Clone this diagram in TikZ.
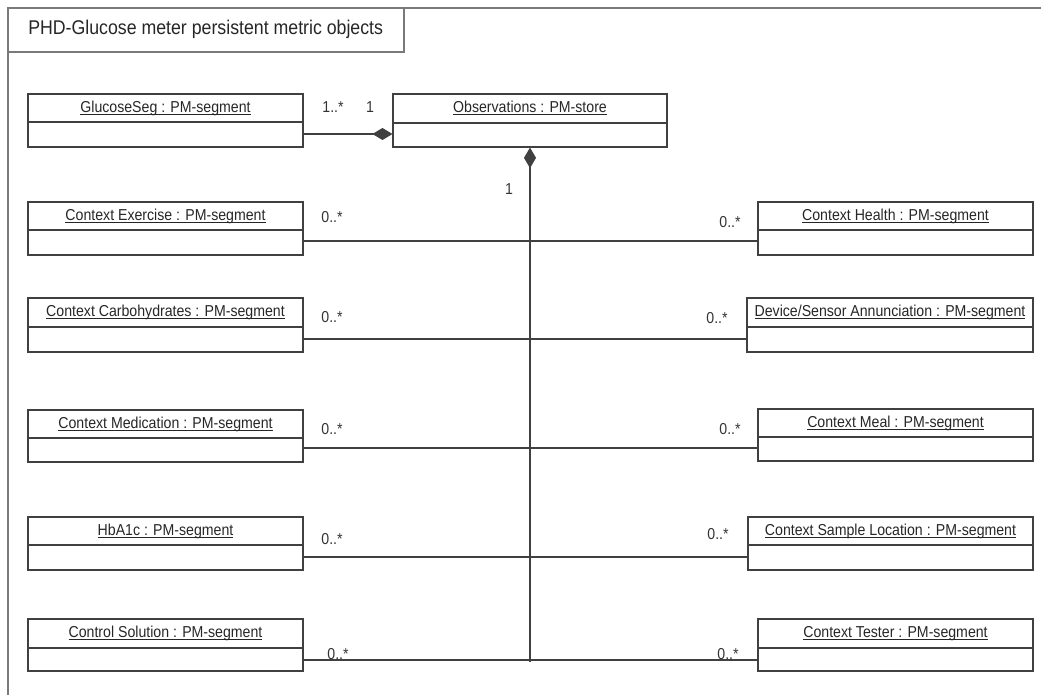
\documentclass[tikz,border=0pt]{standalone}
\usepackage{fontspec}
\setmainfont{Liberation Sans}
\usetikzlibrary{arrows.meta,fit,calc}
\definecolor{boxcol}{HTML}{404040}
\definecolor{framecol}{HTML}{7A7A7A}
\newcommand{\myul}[1]{\leavevmode\setbox0=\hbox{#1}\rlap{\copy0}\rule[-1.8pt]{\wd0}{0.5pt}}
\newcommand{\tall}[1]{\scalebox{1}[1.12]{#1}}
\newcommand{\umlobj}[7]{%
  \node[objbox, fit={(#2,#3) (#4,#5)}] (#1) {};
  \draw[divline] (#2,#6) -- (#4,#6);
  \node[objtitle, anchor=base] (#1-t) at ({(#2+#4)/2},{#3+18.5}) {\tall{\myul{#7}}};
}
\tikzset{
  objbox/.style={draw=boxcol, line width=0.8pt, inner sep=0pt, rectangle},
  divline/.style={draw=boxcol, line width=0.8pt},
  objtitle/.style={inner sep=0pt, font=\fontsize{10.6}{12}\selectfont, text=black!85},
  mult/.style={inner sep=0pt, font=\fontsize{10.6}{12}\selectfont, text=black!80},
  assoc/.style={draw=boxcol, line width=0.8pt},
  comp/.style={draw=boxcol, line width=0.8pt},
  frame/.style={draw=framecol, line width=0.9pt},
}
\begin{document}
\begin{tikzpicture}[x=0.75pt,y=-0.75pt]
\useasboundingbox (0,0) rectangle (1041,695);
% outer frame (open on right and bottom)
\coordinate (ftr) at (1041,8);
\coordinate (fbl) at (8,695);
\node[frame, fit={(8,8) (404,52)}, inner sep=0pt] (titlebox) {};
\draw[frame] (fbl) |- (ftr);
\node[anchor=base west, inner sep=0pt, font=\fontsize{13.3}{15}\selectfont, text=black!85] (title) at (28,35) {\tall{PHD-Glucose meter persistent metric objects}};
% objects
\umlobj{gs}{28}{94}{303}{147}{122}{GlucoseSeg : PM-segment}
\umlobj{obs}{393}{94}{667}{147}{123}{Observations : PM-store}
\umlobj{ex}{28}{202}{303}{255}{230}{Context Exercise : PM-segment}
\umlobj{carb}{28}{298}{303}{352}{327}{Context Carbohydrates : PM-segment}
\umlobj{med}{28}{410}{303}{462}{438}{Context Medication : PM-segment}
\umlobj{hba}{28}{517}{303}{570}{545}{HbA1c : PM-segment}
\umlobj{ctrl}{28}{619}{303}{671}{648}{Control Solution : PM-segment}
\umlobj{health}{758}{202}{1033}{255}{230}{Context Health : PM-segment}
\umlobj{dev}{747}{298}{1033}{352}{327}{Device/Sensor Annunciation : PM-segment}
\umlobj{meal}{758}{409}{1033}{461}{437}{Context Meal : PM-segment}
\umlobj{samp}{748}{517}{1033}{570}{545}{Context Sample Location : PM-segment}
\umlobj{tester}{758}{619}{1033}{671}{648}{Context Tester : PM-segment}
% composition GlucoseSeg -> Observations
\draw[comp, {Diamond[length=15pt,width=9pt,fill=boxcol]}-] (obs.west |- 0,134) -- (gs.east |- 0,134);
\node[mult] (m1) at (333,107) {\tall{1..*}};
\node[mult] (m2) at (370,107) {\tall{1}};
% vertical trunk
\coordinate (vend) at (530,662);
\draw[comp, {Diamond[length=15.5pt,width=9pt,fill=boxcol]}-] (obs.south) -- (vend);
\node[mult] (m3) at (509,189) {\tall{1}};
% junctions
\coordinate (j1) at (530,241);
\coordinate (j2) at (530,339);
\coordinate (j3) at (530,448);
\coordinate (j4) at (530,557);
\coordinate (j5) at (530,660);
\draw[assoc] (ex.east |- j1) -- (j1);
\draw[assoc] (j1) -- (health.west |- j1);
\draw[assoc] (carb.east |- j2) -- (j2);
\draw[assoc] (j2) -- (dev.west |- j2);
\draw[assoc] (med.east |- j3) -- (j3);
\draw[assoc] (j3) -- (meal.west |- j3);
\draw[assoc] (hba.east |- j4) -- (j4);
\draw[assoc] (j4) -- (samp.west |- j4);
\draw[assoc] (ctrl.east |- j5) -- (j5);
\draw[assoc] (j5) -- (tester.west |- j5);
% multiplicities
\node[mult] (l1) at (332,217) {\tall{0..*}};
\node[mult] (l2) at (332,317) {\tall{0..*}};
\node[mult] (l3) at (332,429) {\tall{0..*}};
\node[mult] (l4) at (332,539) {\tall{0..*}};
\node[mult] (l5) at (338,654) {\tall{0..*}};
\node[mult] (r1) at (730,222) {\tall{0..*}};
\node[mult] (r2) at (717,318) {\tall{0..*}};
\node[mult] (r3) at (730,429) {\tall{0..*}};
\node[mult] (r4) at (718,534) {\tall{0..*}};
\node[mult] (r5) at (728,654) {\tall{0..*}};
\end{tikzpicture}
\end{document}
